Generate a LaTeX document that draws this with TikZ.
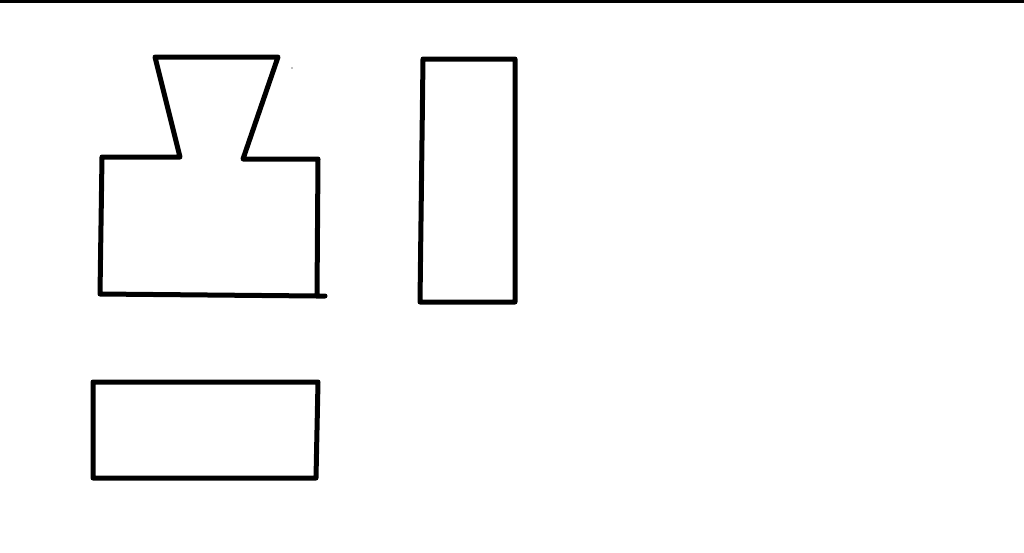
\documentclass[tikz,border=0pt]{standalone}
\begin{document}
\begin{tikzpicture}[x=0.02cm,y=-0.02cm,
  sketch/.style={line width=0.1cm,line join=round,line cap=round,black}]
\useasboundingbox[fill=white] (0,0) rectangle (1024,552);
% top border line
\draw[line width=0.08cm] (0,1.2) -- (1024,1.2);
% shape with funnel
\coordinate (a1) at (155,57);
\coordinate (a2) at (278,57);
\coordinate (a3) at (243,159);
\coordinate (a4) at (318,159);
\coordinate (a5) at (317,296);
\coordinate (a5e) at (325,296);
\coordinate (a6) at (100,294);
\coordinate (a7) at (102,157);
\coordinate (a8) at (180,157);
\draw[sketch] (a5e) -- (a5) -- (a4) -- (a3) -- (a2) -- (a1) -- (a8) -- (a7) -- (a6) -- (a5);
% tall rectangle
\coordinate (b1) at (423,59);
\coordinate (b2) at (515,59);
\coordinate (b3) at (515,302);
\coordinate (b4) at (420,302);
\draw[sketch] (b1) -- (b2) -- (b3) -- (b4) -- cycle;
% wide rectangle
\coordinate (c1) at (93,382);
\coordinate (c2) at (318,382);
\coordinate (c3) at (316,478);
\coordinate (c4) at (93,478);
\draw[sketch] (c1) -- (c2) -- (c3) -- (c4) -- cycle;
% stray speck
\fill[gray] (292,68) circle (0.8);
\end{tikzpicture}
\end{document}
